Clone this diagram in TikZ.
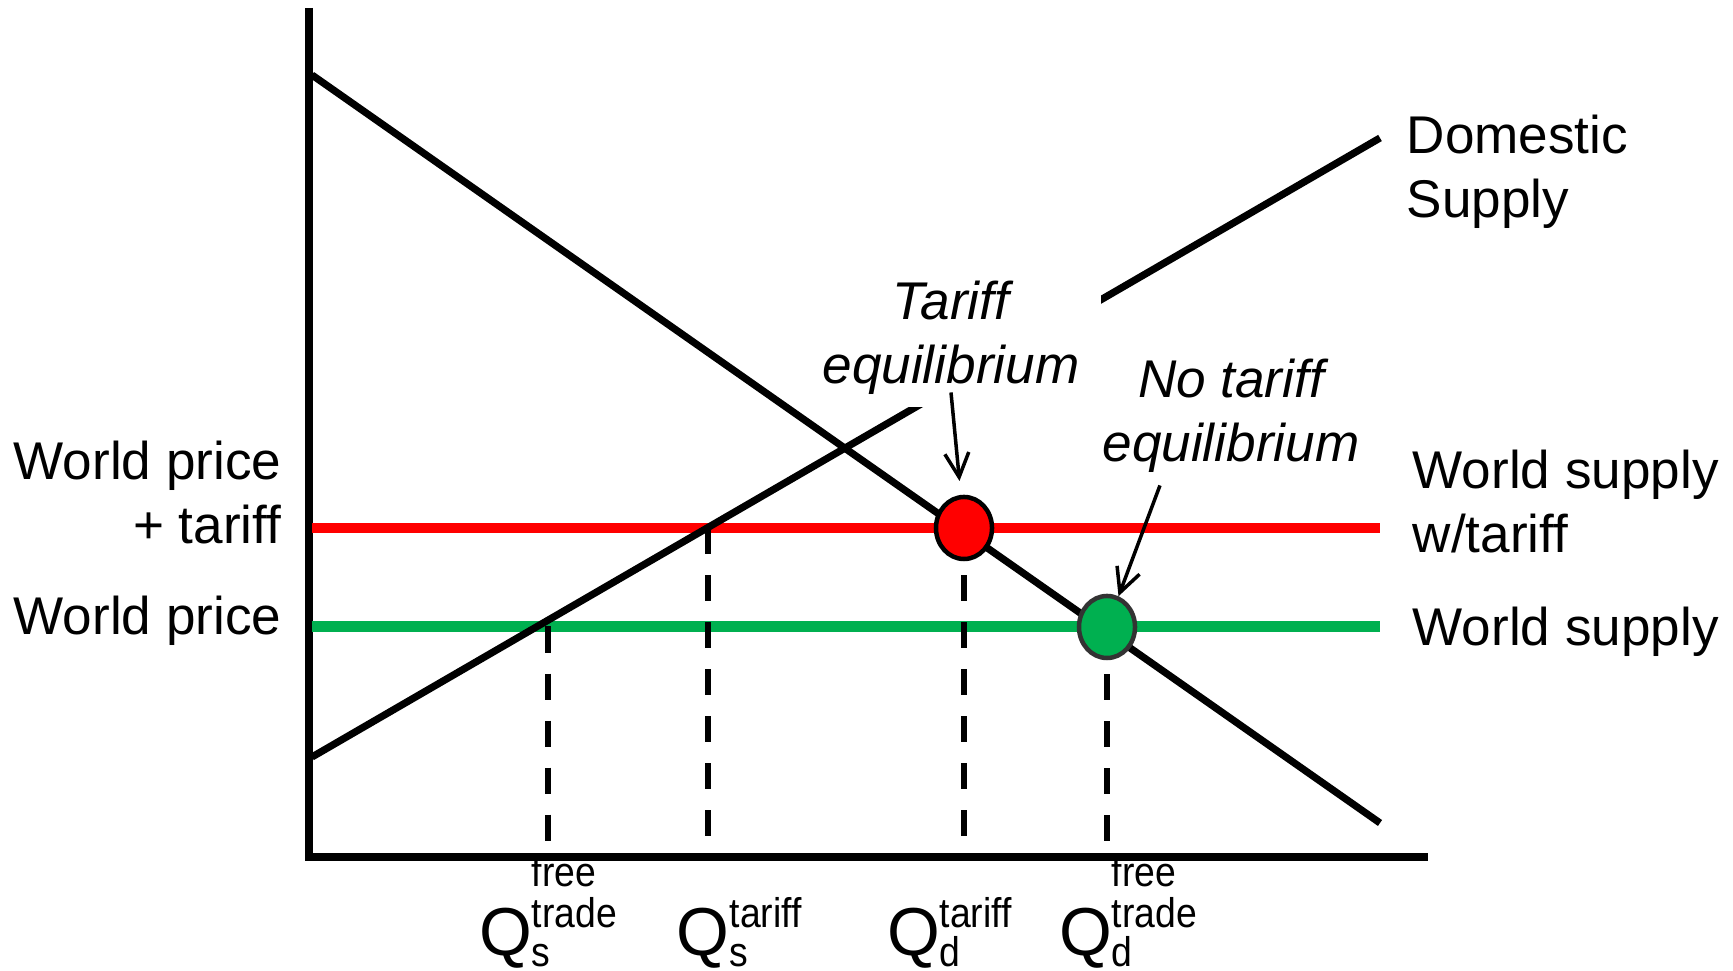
\documentclass[tikz,border=0pt]{standalone}
\usepackage{fontspec}
\setmainfont{Liberation Sans}
\newfontfamily\scrfont[FakeStretch=0.9]{Liberation Sans}
\usetikzlibrary{arrows.meta, shapes.geometric}
\definecolor{wpgreen}{HTML}{00B050}
\definecolor{wpred}{HTML}{FF0000}

\begin{document}
\begin{tikzpicture}[x=0.01cm, y=-0.01cm, >={Straight Barb[length=0.24cm, width=0.24cm]},
    axis/.style={line width=0.072cm},
    curve/.style={line width=0.072cm},
    pline/.style={line width=0.105cm},
    guide/.style={line width=0.067cm, dash pattern=on 0.26cm off 0.21cm},
    eqpt/.style={ellipse, minimum width=0.56cm, minimum height=0.62cm, line width=0.045cm, inner sep=0},
    lbl/.style={inner sep=0, font=\fontsize{15.1}{18.2}\selectfont},
    eqlbl/.style={font=\fontsize{15.1}{18.2}\selectfont\itshape, fill=white, inner xsep=0.22cm, inner ysep=0.12cm, align=center},
    pointer/.style={->, line width=0.035cm},
    qlbl/.style={inner sep=0, font=\fontsize{19.3}{23}\selectfont},
    scr/.style={inner sep=0, font=\fontsize{11.8}{14}\scrfont}]
    \useasboundingbox (0,0) rectangle (1733,971);

    % points of the graph
    \coordinate (O) at (309,857);
    \coordinate (ytop) at (309,8);
    \coordinate (xend) at (1428,857);
    \coordinate (d0) at (312,75);
    \coordinate (d1) at (1380,823);
    \coordinate (s0) at (312,757);
    \coordinate (s1) at (1380,138);
    \coordinate (wt0) at (312,528);
    \coordinate (wt1) at (1380,528);
    \coordinate (wp0) at (312,626.5);
    \coordinate (wp1) at (1380,626.5);
    \coordinate (sw) at (548,626.5);
    \coordinate (st) at (708,528);
    \coordinate (E1) at (964,528);
    \coordinate (E2) at (1107,627);

    % axes
    \draw[axis] (ytop) -- (O) -- (xend);

    % world price lines
    \draw[pline, wpred] (wt0) -- (wt1);
    \draw[pline, wpgreen] (wp0) -- (wp1);

    % demand and domestic supply
    \draw[curve] (d0) -- (d1);
    \draw[curve] (s0) -- (s1);

    % dashed guides down to the quantity axis
    \draw[guide] (sw) -- (sw |- O);
    \draw[guide] (st) -- (st |- O);
    \draw[guide] (E1) -- (E1 |- O);
    \draw[guide] (E2) -- (E2 |- O);

    % equilibrium points
    \node[eqpt, draw=black, fill=wpred] (teq) at (E1) {};
    \node[eqpt, draw=black!80, fill=wpgreen] (nteq) at (E2) {};

    % price and curve labels
    \node[lbl, align=right, anchor=east] (wptlbl) at (282,493) {World price\\+ tariff};
    \node[lbl, anchor=base east] (wplbl) at (282,635) {World price};
    \node[lbl, align=left, anchor=west] (wstlbl) at (1412,502) {World supply\\w/tariff};
    \node[lbl, anchor=base west] (wslbl) at (1412,646) {World supply};
    \node[lbl, align=left, anchor=west] (dslbl) at (1406,172) {Domestic\\Supply};

    % equilibrium labels with pointers
    \node[eqlbl] (teqlbl) at (951,338) {Tariff\\equilibrium};
    \node[eqlbl] (nteqlbl) at (1231,416) {No tariff\\equilibrium};
    \draw[pointer, shorten >=0.14cm] ([yshift=0.15cm]teqlbl.south) -- (teq);
    \draw[pointer] ([xshift=-0.71cm]nteqlbl.south) -- (nteq);

    % quantity labels
    \node[qlbl, anchor=base west] (qsft) at (479,956) {Q};
    \node[scr, anchor=base west] (qsft1) at (531,887) {free};
    \node[scr, anchor=base west] (qsft2) at (531,928) {trade};
    \node[scr, anchor=base west] (qsft3) at (531,967) {s};
    \node[qlbl, anchor=base west] (qst) at (676,956) {Q};
    \node[scr, anchor=base west] (qst1) at (729,928) {tariff};
    \node[scr, anchor=base west] (qst2) at (729,967) {s};
    \node[qlbl, anchor=base west] (qdt) at (887,956) {Q};
    \node[scr, anchor=base west] (qdt1) at (939,928) {tariff};
    \node[scr, anchor=base west] (qdt2) at (939,967) {d};
    \node[qlbl, anchor=base west] (qdft) at (1059,956) {Q};
    \node[scr, anchor=base west] (qdft1) at (1111,887) {free};
    \node[scr, anchor=base west] (qdft2) at (1111,928) {trade};
    \node[scr, anchor=base west] (qdft3) at (1111,967) {d};
\end{tikzpicture}
\end{document}
